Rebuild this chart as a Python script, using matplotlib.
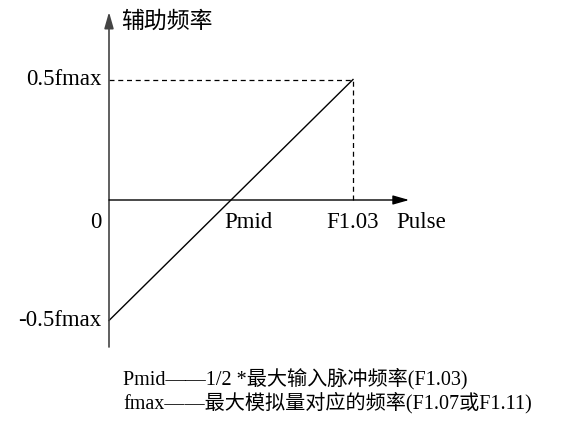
import matplotlib.pyplot as plt

# line end points (x in units of F1.03, y in units of fmax)
line_x = [0.0, 1.0]
line_y = [-0.5, 0.5]
pmid = 0.5
ytick_vals = [0.5, 0.0, -0.5]
ytick_labels = ["0.5fmax", "0", "-0.5fmax"]
xtick_vals = [pmid, 1.0]
xtick_labels = ["Pmid", "F1.03"]
ylabel = "辅助频率"
xlabel = "Pulse"
notes = ["Pmid——1/2 *最大输入脉冲频率(F1.03)",
         "fmax——最大模拟量对应的频率(F1.07或F1.11)"]

fam = ["Liberation Serif", "Noto Sans CJK SC"]
fs = 16.5

fig = plt.figure(figsize=(5.88, 4.21), dpi=100)
ax = fig.add_axes([0, 0, 1, 1])
ax.axis("off")
# pixel mapping: x=0 -> 109px, x=1 -> 353px ; y=0 -> 200px, 241px per unit
ax.set_xlim(-109 / 244, (588 - 109) / 244)
ax.set_ylim(-(421 - 200) / 241, 200 / 241)

# axes with arrows
ax.annotate("", xy=(0, 0.78), xytext=(0, -0.61),
            arrowprops=dict(arrowstyle="-|>,head_length=0.7,head_width=0.2",
                            color="#444444", lw=1.2,
                            mutation_scale=14, shrinkA=0, shrinkB=0))
ax.annotate("", xy=(1.23, 0), xytext=(0, 0),
            arrowprops=dict(arrowstyle="-|>,head_length=0.7,head_width=0.2",
                            color="black", lw=1.0,
                            mutation_scale=14, shrinkA=0, shrinkB=0))

ax.plot(line_x, line_y, color="black", lw=1.0)
ax.plot([0, line_x[1]], [line_y[1], line_y[1]], color="black", lw=0.9,
        ls=(0, (4, 3)))
ax.plot([line_x[1], line_x[1]], [0, line_y[1]], color="black", lw=0.9,
        ls=(0, (4, 3)))

for v, t in zip(ytick_vals, ytick_labels):
    yy = v - 0.095 if v == 0 else v
    ax.text(-0.03, yy, t, ha="right", va="center", fontsize=fs, family=fam)
for v, t in zip(xtick_vals, xtick_labels):
    ax.text(v + (0.07 if t == "Pmid" else 0), -0.095, t, ha="center",
            va="center", fontsize=fs, family=fam)
ax.text(1.28, -0.095, xlabel, ha="center", va="center", fontsize=fs,
        family=fam)
ax.text(0.05, 0.74, ylabel, ha="left", va="center", fontsize=fs, family=fam)

ax.text(0.057, -0.74, notes[0], ha="left", va="center", fontsize=14.5,
        family=fam)
ax.text(0.057, -0.84, notes[1], ha="left", va="center", fontsize=14.5,
        family=fam)

fig.savefig("out.png", dpi=100)
